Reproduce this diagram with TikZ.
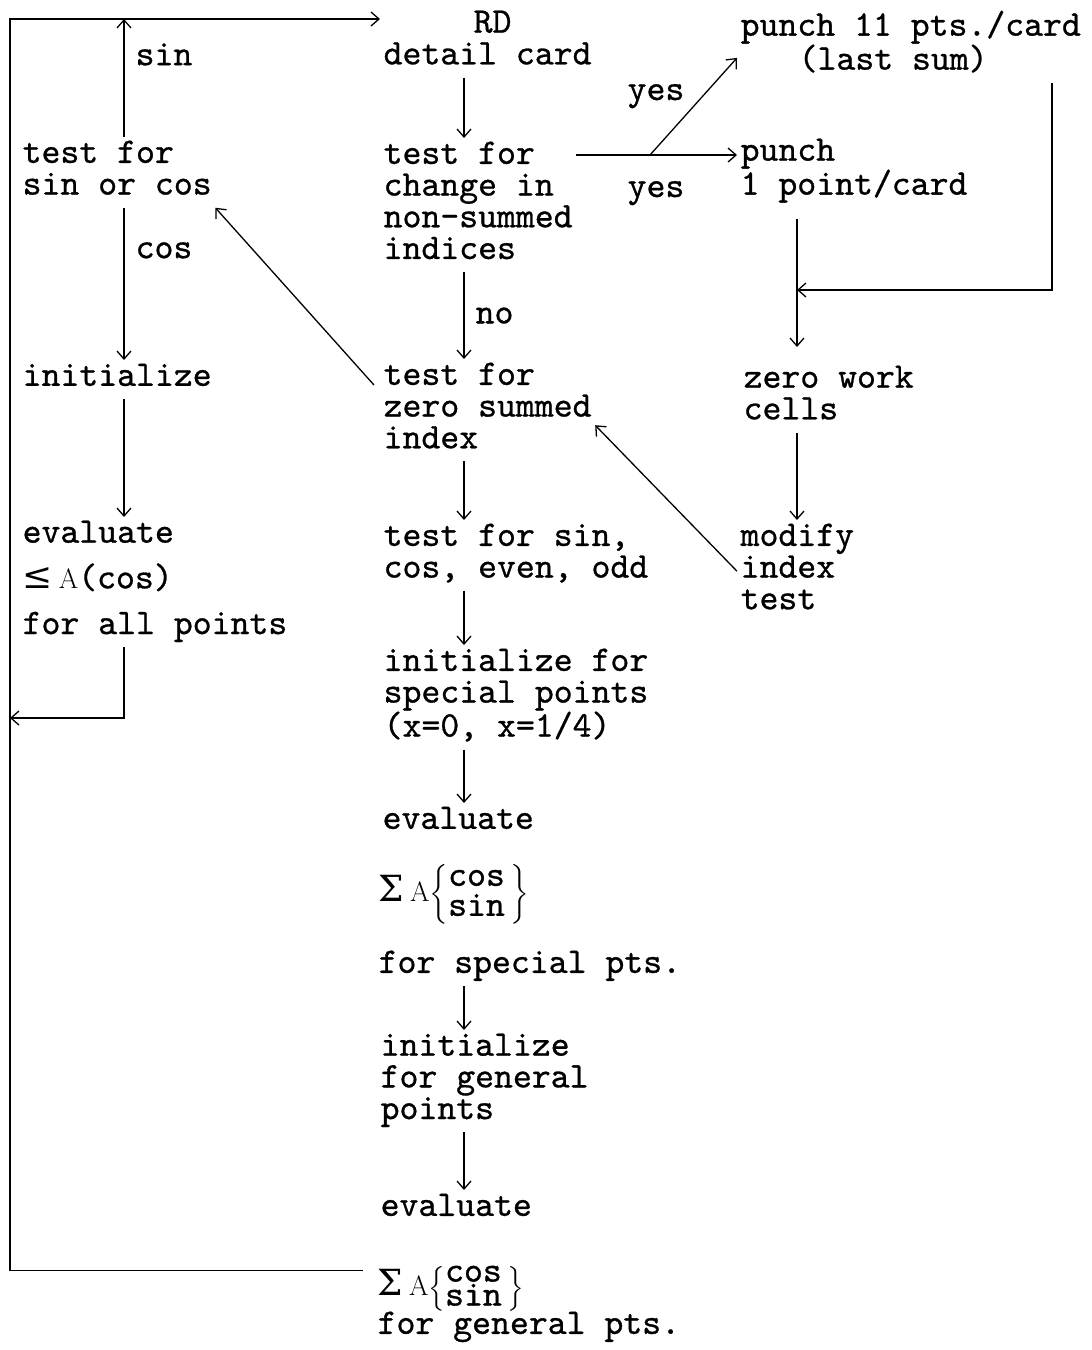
\documentclass[tikz,border=0pt]{standalone}
\usepackage[no-math]{fontspec}
\usepackage{amsmath}
\usetikzlibrary{arrows.meta,positioning}

\newfontfamily\symf{DejaVu Serif}
\newfontfamily\twfont{lmmono10-regular.otf}[FakeBold=0.8]
\newcommand{\typew}{\fontsize{36pt}{31.7pt}\selectfont\twfont}
\newcommand{\romA}{{\rmfamily\fontsize{28pt}{28pt}\selectfont A}}
\newcommand{\sumA}[1]{{\symf Σ}\,\romA$\renewcommand{\arraystretch}{#1}\left\{\begin{array}{@{}l@{\hspace{6pt}}}\smash{\text{\twfont cos}}\\\smash{\text{\twfont sin}}\end{array}\right\}$}

\begin{document}
\begin{tikzpicture}[x=1pt,y=-1pt,line width=1.3pt,
  blk/.style={anchor=north west,align=left,inner sep=3pt,font=\typew,
    execute at begin node=\strut,execute at end node=\strut},
  lbl/.style={inner sep=3pt,font=\typew},
  sumblk/.style={anchor=base west,inner xsep=14pt,inner ysep=0pt,font=\typew},
  arr/.style={-{Straight Barb[length=8pt,width=14pt]}}]

\fill[white] (0,0) rectangle (1092,1350);
\useasboundingbox (0,0) rectangle (1092,1350);

% left column
\node[blk] (sincos) at (19,137) {test for\\sin or cos};
\node[blk] (init) at (19,360) {initialize};
\node[blk] (evalcos) at (19,517) {evaluate\\[14pt]{\symf ≤}\,\romA(cos)\\[14pt]for all points};

% middle column
\node[blk] (rd) at (380,7) {\hspace*{90pt}RD\\detail card};
\node[blk] (change) at (380,138) {test for\\change in\\non-summed\\indices};
\node[blk] (zero) at (380,359) {test for\\zero summed\\index};
\node[blk] (sct) at (380,520) {test for sin,\\cos, even, odd};
\node[blk] (special) at (380,645) {initialize for\\special points\\(x=0, x=1/4)};
\node[blk] (evalsp) at (379,803) {evaluate};
\node[sumblk] (sumsp) at (364,901) {\sumA{0.946}};
\node[blk] (forsp) at (375,947) {for special pts.};
\node[blk] (initgen) at (377,1030) {initialize\\for general\\points};
\node[blk] (evalgen) at (377,1190) {evaluate};
\node[sumblk] (sumgen) at (363,1295) {\sumA{0.757}};
\node[blk] (forgen) at (374,1308) {for general pts.};

% right column
\node[blk] (punch11) at (737,7) {punch 11 pts./card\\\hspace*{58pt}(last sum)};
\node[blk] (punch1) at (737,135) {punch\\1 point/card};
\node[blk] (zerowork) at (740,362) {zero work\\cells};
\node[blk] (modify) at (737,520) {modify\\index\\test};
\node[lbl,anchor=base west] (yesa) at (624,100) {yes};
\node[lbl,anchor=base west] (yesb) at (624,197) {yes};

\coordinate (lx) at (124,0);
\coordinate (mx) at (464,0);
\coordinate (rx) at (797,0);
\coordinate (tl) at (10,19);
\coordinate (back) at (10,718);
\coordinate (fork) at (650,155);
\coordinate (merge) at (797,290);
\coordinate (rcorner) at (1052,290);

% loop back to the detail card
\draw[arr] ([yshift=18pt]sumgen.west) -| (tl) -- (tl -| rd.west);

\draw[arr] (sincos.north -| lx) -- node[lbl,pos=.7,right=8pt] (sinlbl) {sin} (tl -| lx);
\draw[arr] (sincos.south -| lx) -- node[lbl,pos=.28,right=8pt] (coslbl) {cos} (init.north -| lx);
\draw[arr] (init.south -| lx) -- (evalcos.north -| lx);
\draw[arr] (evalcos.south -| lx) |- (back);

\draw[arr] (rd.south -| mx) -- (change.north -| mx);
\draw[arr] (change.south -| mx) -- node[lbl,pos=.5,right=8pt] (nolbl) {no} (zero.north -| mx);
\draw[arr] (zero.south -| mx) -- (sct.north -| mx);
\draw[arr] (sct.south -| mx) -- (special.north -| mx);
\draw[arr] (special.south -| mx) -- (evalsp.north -| mx);
\draw[arr] (forsp.south -| mx) -- (initgen.north -| mx);
\draw[arr] (initgen.south -| mx) -- (evalgen.north -| mx);

\draw[arr] ([xshift=-6pt,yshift=-26pt]zero.north west) -- (sincos.south east);
\draw[arr] (modify.west) -- ([yshift=-15pt]zero.east);

\draw[arr] ([yshift=-17pt]change.north east) -- (punch1.west |- fork);
\draw[arr] (fork) -- ([yshift=-13pt]punch11.west);

\draw[arr,shorten <=11pt,shorten >=15pt] (punch1.south -| rx) -- (zerowork.north -| rx);
\draw[arr] (punch11.south -| rcorner) -- (rcorner) -- (merge);
\draw[arr] (zerowork.south -| rx) -- (modify.north -| rx);

\end{tikzpicture}
\end{document}
